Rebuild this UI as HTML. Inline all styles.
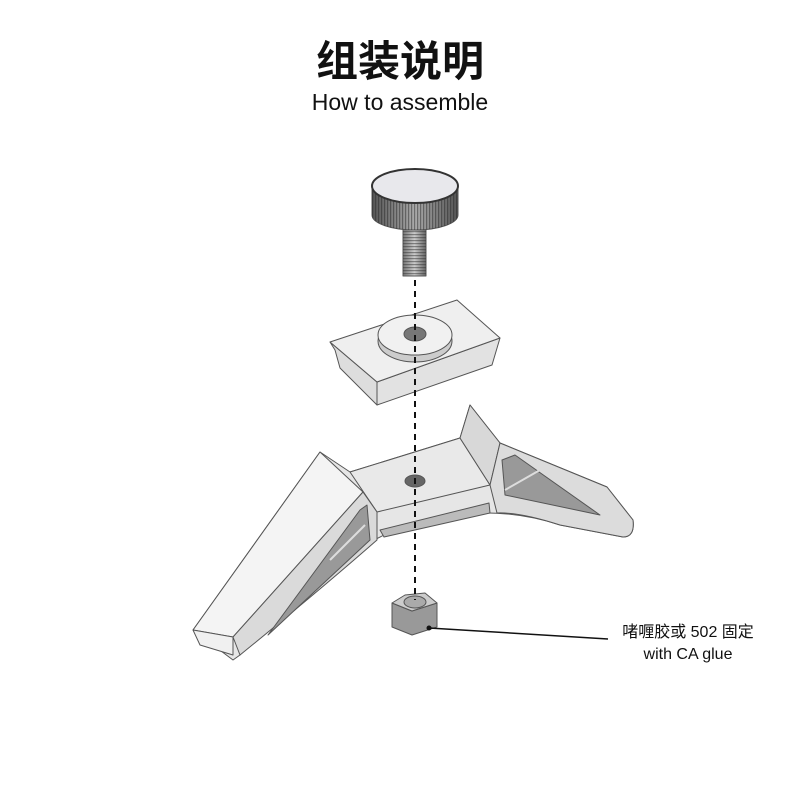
<!DOCTYPE html>
<html><head><meta charset="utf-8"><style>
html,body{margin:0;padding:0;background:#fff;}
body{width:800px;height:800px;position:relative;overflow:hidden;font-family:"Liberation Sans","Noto Sans CJK SC",sans-serif;}
.t{position:absolute;left:0;width:800px;text-align:center;color:#111;}
</style></head><body>
<div class="t" style="top:34px;font-size:42px;font-weight:bold;line-height:50px;font-family:'Noto Sans CJK SC',sans-serif;">组装说明</div>
<div class="t" style="top:88px;font-size:23px;line-height:28px;">How to assemble</div>
<div style="position:absolute;left:600px;top:622px;width:176px;text-align:center;font-size:16px;line-height:22px;color:#111;">啫喱胶或 502 固定<br>with CA glue</div>
<svg width="800" height="800" style="position:absolute;left:0;top:0" viewBox="0 0 800 800">
<defs>
<linearGradient id="kn" x1="0" x2="1"><stop offset="0" stop-color="#555"/><stop offset=".5" stop-color="#aaa"/><stop offset="1" stop-color="#555"/></linearGradient>
<pattern id="kp" width="3" height="10" patternUnits="userSpaceOnUse"><rect width="1.2" height="10" fill="#222" opacity=".45"/></pattern>
<linearGradient id="sh" x1="0" x2="1"><stop offset="0" stop-color="#777"/><stop offset=".5" stop-color="#ccc"/><stop offset="1" stop-color="#666"/></linearGradient>
<pattern id="th" width="10" height="3" patternUnits="userSpaceOnUse"><rect width="10" height="1.2" fill="#333" opacity=".5"/></pattern>
</defs>
<g stroke="#555" stroke-width="1" stroke-linejoin="round">
<rect x="403" y="222" width="23" height="54" fill="url(#sh)"/>
<rect x="403" y="222" width="23" height="54" fill="url(#th)" stroke="none"/>
<path d="M372 187 L372 215 A43 15 0 0 0 458 215 L458 187 Z" fill="url(#kn)"/>
<path d="M372 187 L372 215 A43 15 0 0 0 458 215 L458 187 Z" fill="url(#kp)" stroke="none"/>
<ellipse cx="415" cy="186" rx="43" ry="17" fill="#e8e8ec" stroke="#333" stroke-width="2"/>
<polygon points="330,342 377,382 377,405 340,368 335,350" fill="#ddd"/>
<polygon points="377,382 500,338 492,365 377,405" fill="#e2e2e2"/>
<polygon points="330,342 457,300 500,338 377,382" fill="#efefef"/>
<ellipse cx="415" cy="341" rx="37" ry="21" fill="#ccc"/>
<ellipse cx="415" cy="335" rx="37" ry="20" fill="#f1f1f1"/>
<ellipse cx="415" cy="334" rx="11" ry="7" fill="#777"/>
<path d="M193 630 L320 452 L350 472 L460 438 L470 405 L500 443 L607 487 L633 520 Q635 537 623 537 L560 525 Q500 505 430 518 Q330 545 240 655 L233 660 Z" fill="#e6e6e6"/>
<polygon points="350,472 460,438 490,485 377,512" fill="#e9e9e9"/>
<polygon points="460,438 470,405 500,443 490,485" fill="#d8d8d8"/>
<polygon points="193,630 320,452 363,492 233,637" fill="#f4f4f4"/>
<polygon points="193,630 233,637 233,655 200,645" fill="#f0f0f0"/>
<path d="M363,492 L377,512 L377,540 Q320 590 240,655 L233,637 Z" fill="#dadada"/>
<path d="M500,443 L607,487 L633,520 Q635 537 623,537 L560,525 Q520 512 497,513 L490,485 Z" fill="#dcdcdc"/>
<polygon points="380,530 489,503 490,513 384,537" fill="#bbb"/>
<polygon points="502,460 515,455 600,515 505,495" fill="#999"/>
<line x1="505" y1="490" x2="540" y2="470" stroke="#ddd" stroke-width="2"/>
<polygon points="360,510 367,505 370,540 268,635" fill="#999"/>
<line x1="330" y1="560" x2="365" y2="525" stroke="#ddd" stroke-width="2"/>
<ellipse cx="415" cy="481" rx="10" ry="6" fill="#666"/>
<polygon points="392,603 392,627 412,635 437,627 437,603 412,611" fill="#999"/>
<polygon points="392,603 405,595 425,593 437,603 412,611" fill="#ccc"/>
<ellipse cx="415" cy="602" rx="11" ry="6" fill="#aaa"/>
</g>
<line x1="415" y1="280" x2="415" y2="600" stroke="#111" stroke-width="2" stroke-dasharray="6,5"/>
<line x1="429" y1="628" x2="608" y2="639" stroke="#111" stroke-width="1.5"/>
<circle cx="429" cy="628" r="2.5" fill="#111"/>
</svg>
</body></html>
